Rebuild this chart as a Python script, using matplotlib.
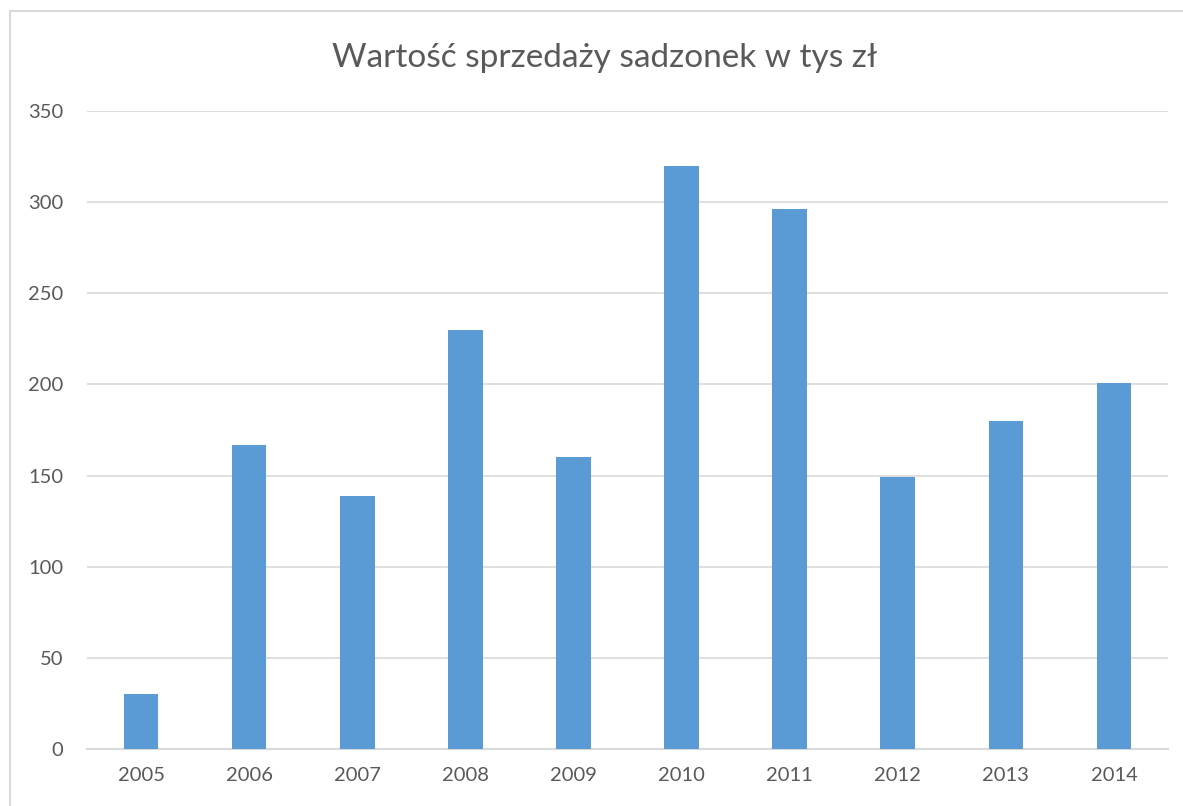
import matplotlib
matplotlib.use('Agg')
import matplotlib.pyplot as plt
from matplotlib.patches import Rectangle

# --- dane ---
lata = ['2005', '2006', '2007', '2008', '2009', '2010', '2011', '2012', '2013', '2014']
wartosci = [30, 167, 139, 230, 160, 320, 296, 149, 180, 201]
y_ticks = [0, 50, 100, 150, 200, 250, 300, 350]

plt.rcParams['font.family'] = ['Lato', 'DejaVu Sans']

fig = plt.figure(figsize=(11.83, 8.06), dpi=100)
# ramka wykresu (prawa i dolna krawędź poza obrazkiem)
fig.patches.append(Rectangle((10 / 1183, -0.05), 1.1, 1 - 11 / 806 + 0.05, transform=fig.transFigure,
                             fill=False, edgecolor='#D9D9D9', linewidth=1.5))

ax = fig.add_axes([87 / 1183, 1 - 749 / 806, (1168 - 87) / 1183, (749 - 111) / 806])
x = range(len(lata))
ax.bar(x, wartosci, width=0.32, color='#5B9BD5', zorder=3)

ax.set_ylim(0, 350)
ax.set_xlim(-0.5, len(lata) - 0.5)
ax.set_yticks(y_ticks)
ax.set_xticks(list(x))
ax.set_xticklabels(lata)
ax.grid(axis='y', color='#D9D9D9', linewidth=1.2, zorder=0)
for s in ['top', 'right', 'left']:
    ax.spines[s].set_visible(False)
ax.spines['bottom'].set_color('#D9D9D9')
ax.spines['bottom'].set_linewidth(1.5)
ax.tick_params(axis='both', length=0, labelsize=14.5, colors='#595959')
ax.tick_params(axis='y', pad=17)
ax.tick_params(axis='x', pad=13)

fig.text(605 / 1183, 1 - 58 / 806, 'Wartość sprzedaży sadzonek w tys zł', ha='center', va='center',
         fontsize=24, color='#595959')

fig.savefig('out.png', dpi=100)
